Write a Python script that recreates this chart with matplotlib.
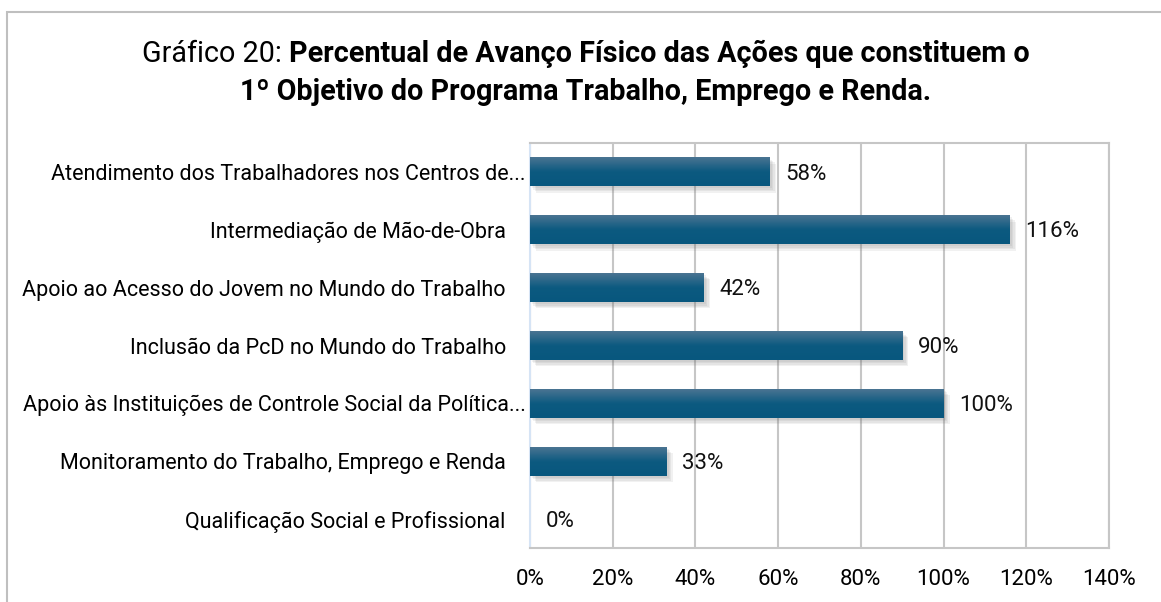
import matplotlib.pyplot as plt
import numpy as np
import matplotlib.patheffects as pe
import matplotlib.transforms as mtransforms
from matplotlib.patches import Rectangle

# action names (top to bottom) and physical progress in %
acoes = [
    "Atendimento dos Trabalhadores nos Centros de...",
    "Intermediação de Mão-de-Obra",
    "Apoio ao Acesso do Jovem no Mundo do Trabalho",
    "Inclusão da PcD no Mundo do Trabalho",
    "Apoio às Instituições de Controle Social da Política...",
    "Monitoramento do Trabalho, Emprego e Renda",
    "Qualificação Social e Profissional",
]
avanco = [58, 116, 42, 90, 100, 33, 0]
xticks = [0, 20, 40, 60, 80, 100, 120, 140]

plt.rcParams['font.family'] = ['Roboto', 'DejaVu Sans']

fig = plt.figure(figsize=(11.61, 6.02), dpi=100)
W, H = 1161, 602
ax = fig.add_axes([530 / W, 1 - 548 / H, (1109 - 530) / W, (548 - 143) / H])

# outer chart frame
fig.patches.append(Rectangle((7 / W, -0.1), 1.2, 1 - 12 / H + 0.1, transform=fig.transFigure,
                             fill=False, edgecolor='#bfbfbf', linewidth=1.5))

y = np.arange(len(acoes))
h = 0.5
shadow = [pe.SimplePatchShadow(offset=(o, -o), shadow_rgbFace='#777777', alpha=0.10)
          for o in (1.5, 2.5, 3.5, 4.5)]
bars = ax.barh(y, avanco, height=h, color='#11587e', zorder=3,
               path_effects=shadow + [pe.Normal()])

# vertical gradient on each bar
grad = np.linspace(0, 1, 64).reshape(-1, 1)
cmap = plt.matplotlib.colors.LinearSegmentedColormap.from_list('g', ['#4a7492', '#0c5a80', '#08577e'])
for yi, v in zip(y, avanco):
    if v > 0:
        ax.imshow(grad, cmap=cmap, aspect='auto', extent=(0, v, yi + h / 2, yi - h / 2),
                  zorder=4, interpolation='bicubic')

for yi, v in zip(y, avanco):
    ax.annotate(f"{v}%", (v, yi), xytext=(11, -1.5), textcoords='offset points',
                va='center', ha='left', fontsize=16, color='#111111', zorder=5)

ax.set_xlim(0, 140)
ax.set_ylim(len(acoes) - 0.5, -0.5)
ax.set_xticks(xticks)
ax.set_xticklabels([f"{t}%" for t in xticks], fontsize=16)
ax.set_yticks(y)
ax.set_yticklabels(acoes, fontsize=15.5)
ax.tick_params(axis='x', length=0, pad=15)
ax.tick_params(axis='y', length=0, pad=3)
# full labels sit a bit further left than truncated ones
for lab in ax.get_yticklabels():
    if not lab.get_text().endswith("..."):
        lab.set_transform(lab.get_transform() + mtransforms.ScaledTranslation(-20 / 100, 0, fig.dpi_scale_trans))
ax.grid(axis='x', color='#c6c6c6', linewidth=1.5, zorder=0)
for s in ['top', 'right', 'bottom']:
    ax.spines[s].set_color('#c6c6c6')
    ax.spines[s].set_linewidth(1.5)
ax.spines['left'].set_color('#d6e4f5')
ax.spines['left'].set_linewidth(1.5)
ax.set_axisbelow(True)

# title: regular prefix + bold rest
fig.canvas.draw()
r = fig.canvas.get_renderer()
cx = 586 / W
t1a = fig.text(0, 1 - 62 / H, "Gráfico 20: ", fontsize=20.7, va='baseline')
t1b = fig.text(0, 1 - 62 / H, "Percentual de Avanço Físico das Ações que constituem o",
               fontsize=20.7, fontweight='bold', va='baseline')
wa = t1a.get_window_extent(r).width
wb = t1b.get_window_extent(r).width
x0 = cx * W - (wa + wb) / 2
t1a.set_x(x0 / W)
t1b.set_x((x0 + wa) / W)
fig.text(cx, 1 - 100 / H, "1º Objetivo do Programa Trabalho, Emprego e Renda.",
         fontsize=20.7, fontweight='bold', ha='center', va='baseline')

fig.savefig('out.png', dpi=100)
